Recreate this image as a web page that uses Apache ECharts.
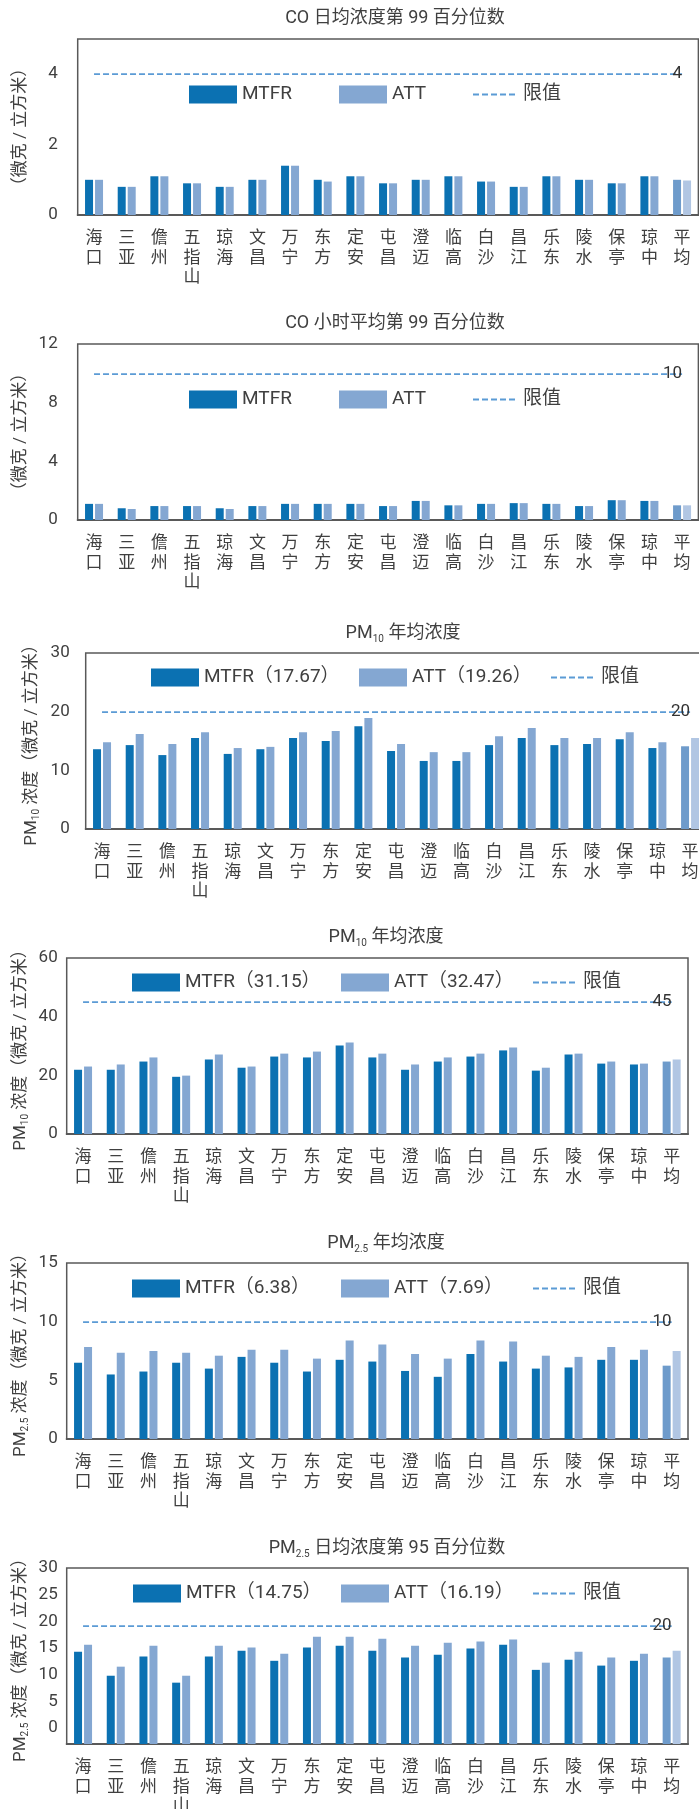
<!DOCTYPE html>
<html>
<head>
<meta charset="utf-8">
<script src="https://cdn.jsdelivr.net/npm/echarts@6/dist/echarts.min.js"></script>
<style>
  html, body { margin: 0; padding: 0; background: #fff; }
  #main { width: 699px; height: 1809px; }
</style>
</head>
<body>
<div id="main"></div>
<script>
// 市县（最后一项为平均）
const cities = ['海口', '三亚', '儋州', '五指山', '琼海', '文昌', '万宁', '东方', '定安', '屯昌', '澄迈', '临高', '白沙', '昌江', '乐东', '陵水', '保亭', '琼中', '平均'];

// CO 日均浓度第 99 百分位数
const coDayMtfr = [1.0, 0.8, 1.1, 0.9, 0.8, 1.0, 1.4, 1.0, 1.1, 0.9, 1.0, 1.1, 0.95, 0.8, 1.1, 1.0, 0.9, 1.1, 1.0];
const coDayAtt = [1.0, 0.8, 1.1, 0.9, 0.8, 1.0, 1.4, 0.95, 1.1, 0.9, 1.0, 1.1, 0.95, 0.8, 1.1, 1.0, 0.9, 1.1, 0.98];
const coDayTicks = [0, 2, 4];
const coDayLimit = 4;

// CO 小时平均第 99 百分位数
const coHourMtfr = [1.1, 0.8, 0.95, 0.95, 0.8, 0.95, 1.1, 1.1, 1.1, 0.95, 1.3, 1.0, 1.1, 1.15, 1.1, 0.95, 1.35, 1.3, 1.0];
const coHourAtt = [1.1, 0.75, 0.95, 0.95, 0.75, 0.95, 1.1, 1.1, 1.1, 0.95, 1.3, 1.0, 1.1, 1.15, 1.1, 0.95, 1.35, 1.3, 1.0];
const coHourTicks = [0, 4, 8, 12];
const coHourLimit = 10;

// PM10 年均浓度（一）
const pm10aMtfr = [13.6, 14.3, 12.6, 15.5, 12.8, 13.6, 15.5, 15.0, 17.5, 13.3, 11.6, 11.6, 14.3, 15.5, 14.3, 14.5, 15.3, 13.8, 14.1];
const pm10aAtt = [14.8, 16.2, 14.5, 16.5, 13.8, 14.0, 16.5, 16.7, 18.9, 14.5, 13.1, 13.1, 15.8, 17.2, 15.5, 15.5, 16.5, 14.8, 15.5];
const pm10aTicks = [0, 10, 20, 30];
const pm10aLimit = 20;

// PM10 年均浓度（二）
const pm10bMtfr = [21.9, 21.9, 24.7, 19.5, 25.4, 22.6, 26.4, 26.1, 30.2, 26.1, 21.9, 24.7, 26.4, 28.5, 21.6, 27.1, 24.0, 23.7, 24.7];
const pm10bAtt = [23.0, 23.7, 26.1, 19.9, 27.1, 23.0, 27.4, 28.1, 31.2, 27.4, 23.7, 26.1, 27.4, 29.5, 22.6, 27.4, 24.7, 24.0, 25.4];
const pm10bTicks = [0, 20, 40, 60];
const pm10bLimit = 45;

// PM2.5 年均浓度
const pm25aMtfr = [6.5, 5.5, 5.75, 6.5, 6.0, 7.0, 6.5, 5.75, 6.75, 6.6, 5.8, 5.3, 7.25, 6.6, 6.0, 6.1, 6.75, 6.75, 6.25];
const pm25aAtt = [7.85, 7.35, 7.5, 7.35, 7.1, 7.6, 7.6, 6.85, 8.4, 8.05, 7.25, 6.85, 8.4, 8.3, 7.1, 7.0, 7.85, 7.6, 7.5];
const pm25aTicks = [0, 5, 10, 15];
const pm25aLimit = 10;

// PM2.5 日均浓度第 95 百分位数
const pm25pMtfr = [14.3, 9.8, 13.4, 8.5, 13.4, 14.5, 12.6, 15.1, 15.4, 14.5, 13.2, 13.75, 14.9, 15.6, 10.9, 12.8, 11.7, 12.6, 13.2];
const pm25pAtt = [15.6, 11.5, 15.4, 9.8, 15.4, 15.1, 13.9, 17.1, 17.1, 16.75, 15.4, 16.0, 16.2, 16.6, 12.25, 14.3, 13.2, 13.9, 14.5];
const pm25pTicks = [0, 5, 10, 15, 20, 25, 30];
const pm25pLimit = 19.1;

const FONT = 'Roboto, "Noto Sans CJK SC", sans-serif';
const TEXT = '#404040';
const C_MTFR = '#0B71B2';
const C_ATT = '#84A7D2';
const C_MTFR_AVG = '#6E9BCB';
const C_ATT_AVG = '#B1C6E3';
const C_LIMIT = '#5B9BD5';

const richText = {
  t: { fontSize: 18, lineHeight: 22, color: TEXT, fontFamily: FONT },
  s: { fontSize: 10, lineHeight: 10, color: TEXT, fontFamily: FONT, verticalAlign: 'bottom' }
};
const richName = {
  t: { fontSize: 17, lineHeight: 20, color: TEXT, fontFamily: FONT },
  s: { fontSize: 10, lineHeight: 10, color: TEXT, fontFamily: FONT, verticalAlign: 'bottom' }
};

// 各图布局（图例三个固定位置：MTFR、ATT、限值）
const panels = [
  { title: '{t|CO 日均浓度第 99 百分位数}', yName: '{t|（微克 / 立方米）}',
    mtfr: coDayMtfr, att: coDayAtt, names: ['MTFR', 'ATT'], ticks: coDayTicks, limit: coDayLimit, limitText: '4',
    min: 0, max: 5, step: 1, top: 39, left: 77.7, width: 620.7, labelMargin: 20, nameGap: 47,
    legendX: [189, 339, 472], legendY: 94, titleX: 395, titleY: 18 },
  { title: '{t|CO 小时平均第 99 百分位数}', yName: '{t|（微克 / 立方米）}',
    mtfr: coHourMtfr, att: coHourAtt, names: ['MTFR', 'ATT'], ticks: coHourTicks, limit: coHourLimit, limitText: '10',
    min: 0, max: 12, step: 4, top: 344, left: 77.7, width: 620.7, labelMargin: 20, nameGap: 47,
    legendX: [189, 339, 472], legendY: 399, titleX: 395, titleY: 323 },
  { title: '{t|PM}{s|10}{t| 年均浓度}', yName: '{t|PM}{s|10}{t| 浓度（微克 / 立方米）}',
    mtfr: pm10aMtfr, att: pm10aAtt, names: ['MTFR（17.67）', 'ATT（19.26）'], ticks: pm10aTicks, limit: pm10aLimit, limitText: '20',
    min: 0, max: 30, step: 10, top: 653, left: 85.7, width: 620.7, labelMargin: 16, nameGap: 44,
    legendX: [151, 359, 550], legendY: 677, titleX: 403, titleY: 633 },
  { title: '{t|PM}{s|10}{t| 年均浓度}', yName: '{t|PM}{s|10}{t| 浓度（微克 / 立方米）}',
    mtfr: pm10bMtfr, att: pm10bAtt, names: ['MTFR（31.15）', 'ATT（32.47）'], ticks: pm10bTicks, limit: pm10bLimit, limitText: '45',
    min: 0, max: 60, step: 20, top: 958, left: 66.7, width: 621.3, labelMargin: 9, nameGap: 36,
    legendX: [132, 341, 532], legendY: 982, titleX: 386, titleY: 937 },
  { title: '{t|PM}{s|2.5}{t| 年均浓度}', yName: '{t|PM}{s|2.5}{t| 浓度（微克 / 立方米）}',
    mtfr: pm25aMtfr, att: pm25aAtt, names: ['MTFR（6.38）', 'ATT（7.69）'], ticks: pm25aTicks, limit: pm25aLimit, limitText: '10',
    min: 0, max: 15, step: 5, top: 1263, left: 66.7, width: 621.3, labelMargin: 9, nameGap: 36,
    legendX: [132, 341, 532], legendY: 1288, titleX: 386, titleY: 1243 },
  { title: '{t|PM}{s|2.5}{t| 日均浓度第 95 百分位数}', yName: '{t|PM}{s|2.5}{t| 浓度（微克 / 立方米）}',
    mtfr: pm25pMtfr, att: pm25pAtt, names: ['MTFR（14.75）', 'ATT（16.19）'], ticks: pm25pTicks, limit: pm25pLimit, limitText: '20',
    min: -3, max: 30, step: 1, top: 1568, left: 66.7, width: 621.3, labelMargin: 9, nameGap: 36,
    legendX: [133, 341, 532], legendY: 1593, titleX: 387, titleY: 1548 }
];

// 平均一栏用浅色
function withAvg(values, avgColor) {
  return values.map((v, i) => i === values.length - 1 ? { value: v, itemStyle: { color: avgColor } } : v);
}

const option = { animation: false, title: [], legend: [], grid: [], xAxis: [], yAxis: [], series: [] };
const legendText = { fontSize: 19, color: TEXT, fontFamily: FONT };

panels.forEach((p, i) => {
  option.title.push({
    text: p.title, left: p.titleX, top: p.titleY - 11, textAlign: 'center', padding: 0,
    textStyle: { rich: richText, fontWeight: 'normal' }
  });
  const legendItems = [
    { name: p.names[0], icon: 'rect' },
    { name: p.names[1], icon: 'rect' },
    { name: '限值', itemStyle: { opacity: 0 } }
  ];
  legendItems.forEach((item, k) => {
    option.legend.push({
      left: p.legendX[k], top: p.legendY - 9, padding: 0,
      itemWidth: k === 2 ? 45 : 48, itemHeight: 18,
      textStyle: legendText, data: [item]
    });
  });
  option.grid.push({
    left: p.left, top: p.top, width: p.width, height: 176,
    outerBoundsMode: 'none', containLabel: false,
    show: true, borderColor: '#595959', borderWidth: 1.5
  });
  option.xAxis.push({
    type: 'category', gridIndex: i, data: cities,
    axisTick: { show: false },
    axisLine: { onZero: false, lineStyle: { color: '#595959', width: 2 } },
    axisLabel: {
      interval: 0, margin: 14, fontSize: 17, lineHeight: 19.5, color: TEXT, fontFamily: FONT,
      formatter: v => v.split('').join('\n')
    }
  });
  option.yAxis.push({
    type: 'value', gridIndex: i, min: p.min, max: p.max, interval: p.step, startValue: p.min,
    axisLine: { show: false }, axisTick: { show: false }, splitLine: { show: false },
    axisLabel: {
      margin: p.labelMargin, fontSize: 17, color: TEXT, fontFamily: FONT,
      formatter: v => p.ticks.includes(v) ? String(v) : ''
    },
    name: p.yName, nameLocation: 'middle', nameGap: p.nameGap, nameMoveOverlap: false,
    nameTextStyle: { rich: richName }
  });
  option.series.push({
    name: p.names[0], type: 'bar', xAxisIndex: i, yAxisIndex: i,
    barWidth: 8, barGap: '25%', itemStyle: { color: C_MTFR },
    data: withAvg(p.mtfr, C_MTFR_AVG)
  });
  option.series.push({
    name: p.names[1], type: 'bar', xAxisIndex: i, yAxisIndex: i,
    barWidth: 8, barGap: '25%', itemStyle: { color: C_ATT },
    data: withAvg(p.att, C_ATT_AVG)
  });
  option.series.push({
    name: '限值', type: 'line', xAxisIndex: i, yAxisIndex: i, data: [],
    symbol: 'none', itemStyle: { color: C_LIMIT },
    lineStyle: { type: [6, 3], width: 1.75, color: C_LIMIT },
    markLine: {
      silent: true, symbol: 'none',
      lineStyle: { type: [6, 3], width: 1.75, color: C_LIMIT },
      label: { show: true, position: 'insideEnd', distance: 0, formatter: p.limitText, fontSize: 17, color: '#333', fontFamily: FONT },
      data: [[{ coord: [cities[0], p.limit] }, { coord: [cities[cities.length - 1], p.limit] }]]
    }
  });
});

const chart = echarts.init(document.getElementById('main'), null, { renderer: 'canvas' });
chart.setOption(option);
</script>
</body>
</html>
